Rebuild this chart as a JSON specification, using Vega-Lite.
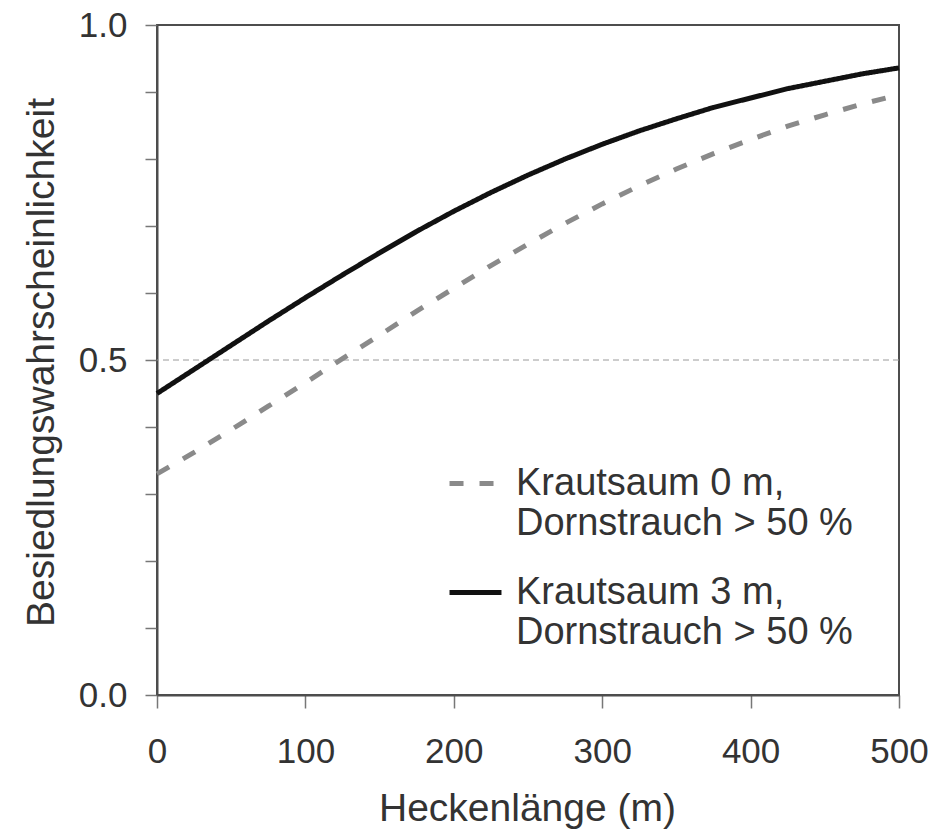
{
  "$schema": "https://vega.github.io/schema/vega-lite/v6.json",
  "width": 742,
  "height": 670,
  "autosize": "none",
  "padding": {"left": 157, "top": 25, "right": 38, "bottom": 136},
  "background": "white",
  "config": {
    "font": "Liberation Sans",
    "view": {"stroke": "#4d4d4d", "strokeWidth": 2}
  },
  "datasets": {
    "curves": [
      {"x": 0, "p": 0.330, "s": "Krautsaum 0 m,"},
      {"x": 25, "p": 0.362, "s": "Krautsaum 0 m,"},
      {"x": 50, "p": 0.396, "s": "Krautsaum 0 m,"},
      {"x": 75, "p": 0.431, "s": "Krautsaum 0 m,"},
      {"x": 100, "p": 0.466, "s": "Krautsaum 0 m,"},
      {"x": 125, "p": 0.502, "s": "Krautsaum 0 m,"},
      {"x": 150, "p": 0.537, "s": "Krautsaum 0 m,"},
      {"x": 175, "p": 0.573, "s": "Krautsaum 0 m,"},
      {"x": 200, "p": 0.607, "s": "Krautsaum 0 m,"},
      {"x": 225, "p": 0.641, "s": "Krautsaum 0 m,"},
      {"x": 250, "p": 0.673, "s": "Krautsaum 0 m,"},
      {"x": 275, "p": 0.704, "s": "Krautsaum 0 m,"},
      {"x": 300, "p": 0.733, "s": "Krautsaum 0 m,"},
      {"x": 325, "p": 0.760, "s": "Krautsaum 0 m,"},
      {"x": 350, "p": 0.785, "s": "Krautsaum 0 m,"},
      {"x": 375, "p": 0.808, "s": "Krautsaum 0 m,"},
      {"x": 400, "p": 0.829, "s": "Krautsaum 0 m,"},
      {"x": 425, "p": 0.849, "s": "Krautsaum 0 m,"},
      {"x": 450, "p": 0.866, "s": "Krautsaum 0 m,"},
      {"x": 475, "p": 0.882, "s": "Krautsaum 0 m,"},
      {"x": 500, "p": 0.896, "s": "Krautsaum 0 m,"},
      {"x": 0, "p": 0.450, "s": "Krautsaum 3 m,"},
      {"x": 25, "p": 0.486, "s": "Krautsaum 3 m,"},
      {"x": 50, "p": 0.522, "s": "Krautsaum 3 m,"},
      {"x": 75, "p": 0.558, "s": "Krautsaum 3 m,"},
      {"x": 100, "p": 0.593, "s": "Krautsaum 3 m,"},
      {"x": 125, "p": 0.627, "s": "Krautsaum 3 m,"},
      {"x": 150, "p": 0.660, "s": "Krautsaum 3 m,"},
      {"x": 175, "p": 0.692, "s": "Krautsaum 3 m,"},
      {"x": 200, "p": 0.722, "s": "Krautsaum 3 m,"},
      {"x": 225, "p": 0.750, "s": "Krautsaum 3 m,"},
      {"x": 250, "p": 0.776, "s": "Krautsaum 3 m,"},
      {"x": 275, "p": 0.800, "s": "Krautsaum 3 m,"},
      {"x": 300, "p": 0.822, "s": "Krautsaum 3 m,"},
      {"x": 325, "p": 0.842, "s": "Krautsaum 3 m,"},
      {"x": 350, "p": 0.860, "s": "Krautsaum 3 m,"},
      {"x": 375, "p": 0.877, "s": "Krautsaum 3 m,"},
      {"x": 400, "p": 0.891, "s": "Krautsaum 3 m,"},
      {"x": 425, "p": 0.905, "s": "Krautsaum 3 m,"},
      {"x": 450, "p": 0.916, "s": "Krautsaum 3 m,"},
      {"x": 475, "p": 0.927, "s": "Krautsaum 3 m,"},
      {"x": 500, "p": 0.936, "s": "Krautsaum 3 m,"}
    ],
    "ref": [{"p": 0.5}]
  },
  "layer": [
    {
      "data": {"name": "ref"},
      "mark": {"type": "rule", "color": "#9a9a9a", "strokeWidth": 1, "strokeDash": [6, 4]},
      "encoding": {
        "y": {"field": "p", "type": "quantitative", "scale": {"domain": [0, 1], "nice": false}}
      }
    },
    {
      "data": {"name": "curves"},
      "mark": {"type": "line", "strokeWidth": 5, "strokeCap": "butt"},
      "encoding": {
        "x": {
          "field": "x",
          "type": "quantitative",
          "scale": {"domain": [0, 500], "nice": false},
          "axis": {
            "title": "Heckenlänge (m)",
            "titleFontSize": 39,
            "titleFontWeight": "normal",
            "titleColor": "#333333",
            "titleX": 370,
            "titleY": 125,
            "titleAlign": "center",
            "titleBaseline": "alphabetic",
            "values": [0, 100, 200, 300, 400, 500],
            "format": "d",
            "labelFlush": false,
            "labelFontSize": 35,
            "labelColor": "#333333",
            "labelBaseline": "alphabetic",
            "labelPadding": 54,
            "tickSize": 13,
            "tickColor": "#777777",
            "tickWidth": 1.5,
            "domainColor": "#4d4d4d",
            "domainWidth": 2,
            "grid": false
          }
        },
        "y": {
          "field": "p",
          "type": "quantitative",
          "scale": {"domain": [0, 1], "nice": false},
          "axis": {
            "title": "Besiedlungswahrscheinlichkeit",
            "titleFontSize": 39,
            "titleFontWeight": "normal",
            "titleColor": "#333333",
            "titleAngle": -90,
            "titleX": -104,
            "titleY": 337,
            "titleAlign": "center",
            "titleBaseline": "alphabetic",
            "values": [0, 0.1, 0.2, 0.3, 0.4, 0.5, 0.6, 0.7, 0.8, 0.9, 1],
            "labelExpr": "datum.value == 0 || datum.value == 0.5 || datum.value == 1 ? format(datum.value, '.1f') : ''",
            "labelFlush": false,
            "labelFontSize": 35,
            "labelColor": "#333333",
            "labelPadding": 18,
            "tickSize": 12,
            "tickColor": "#777777",
            "tickWidth": 1.5,
            "domainColor": "#4d4d4d",
            "domainWidth": 2,
            "grid": false
          }
        },
        "color": {
          "field": "s",
          "type": "nominal",
          "scale": {"domain": ["Krautsaum 0 m,", "Krautsaum 3 m,"], "range": ["#8a8a8a", "#111111"]},
          "legend": {
            "title": null,
            "orient": "none",
            "legendX": 290,
            "legendY": 430,
            "padding": 0,
            "rowPadding": 21,
            "symbolType": "stroke",
            "symbolSize": 2700,
            "symbolStrokeWidth": 5,
            "labelFontSize": 38,
            "labelColor": "#333333",
            "labelOffset": 12,
            "labelLimit": 0,
            "labelBaseline": "middle",
            "labelExpr": "[datum.label, 'Dornstrauch > 50 %']"
          }
        },
        "strokeDash": {
          "field": "s",
          "type": "nominal",
          "scale": {"domain": ["Krautsaum 0 m,", "Krautsaum 3 m,"], "range": [[14, 16], [1, 0]]},
          "legend": {
            "title": null,
            "orient": "none",
            "legendX": 290,
            "legendY": 430,
            "padding": 0,
            "rowPadding": 21,
            "symbolType": "stroke",
            "symbolSize": 2700,
            "symbolStrokeWidth": 5,
            "labelFontSize": 38,
            "labelColor": "#333333",
            "labelOffset": 12,
            "labelLimit": 0,
            "labelBaseline": "middle",
            "labelExpr": "[datum.label, 'Dornstrauch > 50 %']"
          }
        }
      }
    }
  ]
}
